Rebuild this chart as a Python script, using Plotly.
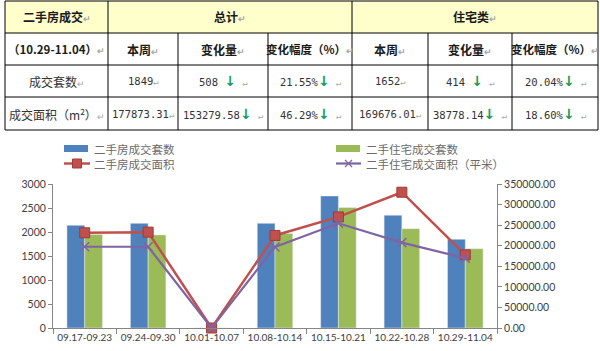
import plotly.graph_objects as go

# ---------------- data ----------------
weeks = ["09.17-09.23", "09.24-09.30", "10.01-10.07", "10.08-10.14",
         "10.15-10.21", "10.22-10.28", "10.29-11.04"]
all_units = [2140, 2180, 0, 2180, 2750, 2350, 1849]          # 二手房成交套数
res_units = [1950, 1940, 0, 1970, 2510, 2070, 1652]          # 二手住宅成交套数
all_area = [231500, 233000, 0, 225000, 270000, 330000, 177873.31]   # 二手房成交面积
res_area = [197500, 197500, 0, 197000, 254500, 207500, 169676.01]   # 二手住宅成交面积（平米）

series_names = ["二手房成交套数", "二手住宅成交套数", "二手房成交面积", "二手住宅成交面积（平米）"]

table_title = "二手房成交"
table_period = "（10.29-11.04）"
group_names = ["总计", "住宅类"]
sub_headers = ["本周", "变化量", "变化幅度（%）"]
row_names = ["成交套数", "成交面积（m<sup>2</sup>）"]
total_week = ["1849", "177873.31"]
total_change = ["508 ", "153279.58"]
total_pct = ["21.55%", "46.29%"]
res_week = ["1652", "169676.01"]
res_change = ["414 ", "38778.14"]
res_pct = ["20.04%", "18.60%"]

# ---------------- helpers ----------------
W, H = 600, 351
def px(x):
    return x / W
def py(y):
    return 1 - y / H

BLUE, GREEN, RED, PURPLE = "#4F81BD", "#9BBB59", "#C0504D", "#8064A2"
AX = "#868686"
TICKFONT = dict(family="Lato", size=10.5, color="#404040")
XTICKFONT = dict(family="Lato", size=10, color="#404040")

fig = go.Figure()
fig.add_trace(go.Bar(x=weeks, y=all_units, name=series_names[0], marker_color=BLUE,
                     yaxis="y", showlegend=False))
fig.add_trace(go.Bar(x=weeks, y=res_units, name=series_names[1], marker_color=GREEN,
                     yaxis="y", showlegend=False))
fig.add_trace(go.Scatter(x=weeks, y=all_area, name=series_names[2], yaxis="y2",
                         mode="lines+markers", cliponaxis=False,
                         line=dict(color=RED, width=2.5),
                         marker=dict(symbol="square", size=10, color=RED,
                                     line=dict(color="#A03A37", width=1)),
                         showlegend=False))
fig.add_trace(go.Scatter(x=weeks, y=res_area, name=series_names[3], yaxis="y2",
                         mode="lines+markers", cliponaxis=False,
                         line=dict(color=PURPLE, width=2.2),
                         marker=dict(symbol="x-thin", size=9, color=PURPLE,
                                     line=dict(color=PURPLE, width=1.5)),
                         showlegend=False))

shapes = []
annotations = []

# ---------------- table ----------------
L, R = 5, 598
rows_y = [1, 33, 65, 97, 130]
cols_x = [5, 108, 178, 268, 352, 428, 512, 598]
shapes.append(dict(type="rect", xref="paper", yref="paper", x0=px(L), x1=px(R),
                   y0=py(rows_y[0]), y1=py(rows_y[1]), fillcolor="#FFFFCC",
                   line=dict(width=0), layer="below"))
for yy in rows_y:
    shapes.append(dict(type="line", xref="paper", yref="paper", x0=px(L), x1=px(R),
                       y0=py(yy), y1=py(yy), line=dict(color="black", width=1)))
for xx in [5, 108, 352, 598]:
    shapes.append(dict(type="line", xref="paper", yref="paper", x0=px(xx), x1=px(xx),
                       y0=py(rows_y[0]), y1=py(rows_y[-1]), line=dict(color="black", width=1)))
for xx in [178, 268, 428, 512]:
    shapes.append(dict(type="line", xref="paper", yref="paper", x0=px(xx), x1=px(xx),
                       y0=py(rows_y[1]), y1=py(rows_y[-1]), line=dict(color="black", width=1)))

PM = "<span style='color:#A8A8A8;font-size:9px'>↵</span>"
ARR = "<span style='color:#1A9A5A;font-family:DejaVu Sans;font-size:14px'><b>↓</b></span>"
CJK = "Noto Sans CJK SC"
MONO = "DejaVu Sans Mono"

def cell(text, cx, cy, family=CJK, size=12, bold=False, color="#1A1A1A"):
    t = f"<b>{text}</b>" if bold else text
    annotations.append(dict(x=px(cx), y=py(cy), xref="paper", yref="paper", text=t,
                            showarrow=False, xanchor="center", yanchor="middle",
                            font=dict(family=family, size=size, color=color)))

centers_x = [(cols_x[i] + cols_x[i + 1]) / 2 for i in range(7)]
centers_y = [(rows_y[i] + rows_y[i + 1]) / 2 for i in range(4)]

cell(table_title + PM, centers_x[0], centers_y[0], bold=True)
cell(group_names[0] + PM, (108 + 352) / 2, centers_y[0], bold=True)
cell(group_names[1] + PM, (352 + 598) / 2, centers_y[0], bold=True)
cell(table_period + PM, centers_x[0], centers_y[1], bold=True, size=11.5)
for k, h in enumerate(sub_headers + sub_headers):
    cell(h + PM, centers_x[k + 1], centers_y[1], bold=True, size=12 if k % 3 != 2 else 11.5)

for r in range(2):
    cy = centers_y[r + 2]
    cell(row_names[r] + PM, centers_x[0], cy, size=12, color="#333333")
    vals = [total_week[r], total_change[r], total_pct[r], res_week[r], res_change[r], res_pct[r]]
    for k, v in enumerate(vals):
        if k % 3 == 0:
            txt = v + PM
        else:
            txt = v + ARR + " " + PM
        cell(txt, centers_x[k + 1], cy, family=MONO, size=10.5, color="#333333")

# ---------------- legend (manual) ----------------
LEGFONT = dict(family=CJK, size=11.5, color="#6B6B6B")
def leg_text(t, x, y):
    annotations.append(dict(x=px(x), y=py(y), xref="paper", yref="paper", text=t,
                            showarrow=False, xanchor="left", yanchor="middle", font=LEGFONT))

ROW1, ROW2 = 148.5, 163.5
# blue bar
shapes.append(dict(type="rect", xref="paper", yref="paper", x0=px(64), x1=px(88),
                   y0=py(ROW1 + 3.5), y1=py(ROW1 - 3.5), fillcolor=BLUE, line=dict(width=0)))
leg_text(series_names[0], 92, ROW1)
# green bar
shapes.append(dict(type="rect", xref="paper", yref="paper", x0=px(336), x1=px(360),
                   y0=py(ROW1 + 3.5), y1=py(ROW1 - 3.5), fillcolor=GREEN, line=dict(width=0)))
leg_text(series_names[1], 364, ROW1)
# red line + square
shapes.append(dict(type="line", xref="paper", yref="paper", x0=px(64), x1=px(90),
                   y0=py(ROW2), y1=py(ROW2), line=dict(color=RED, width=2.5)))
shapes.append(dict(type="rect", xref="paper", yref="paper", x0=px(72.5), x1=px(81.5),
                   y0=py(ROW2 + 4.5), y1=py(ROW2 - 4.5), fillcolor=RED,
                   line=dict(color="#A03A37", width=1)))
leg_text(series_names[2], 92, ROW2)
# purple line + x
shapes.append(dict(type="line", xref="paper", yref="paper", x0=px(336), x1=px(361),
                   y0=py(ROW2), y1=py(ROW2), line=dict(color=PURPLE, width=2.2)))
shapes.append(dict(type="line", xref="paper", yref="paper", x0=px(345), x1=px(352),
                   y0=py(ROW2 - 3.5), y1=py(ROW2 + 3.5), line=dict(color=PURPLE, width=1.2)))
shapes.append(dict(type="line", xref="paper", yref="paper", x0=px(345), x1=px(352),
                   y0=py(ROW2 + 3.5), y1=py(ROW2 - 3.5), line=dict(color=PURPLE, width=1.2)))
leg_text(series_names[3], 364, ROW2)

# ---------------- layout ----------------
fig.update_layout(
    width=W, height=H,
    margin=dict(l=0, r=0, t=0, b=0),
    paper_bgcolor="white", plot_bgcolor="white",
    barmode="group", bargap=0.44, bargroupgap=0,
    showlegend=False,
    shapes=shapes, annotations=annotations,
    xaxis=dict(domain=[px(53), px(497)], type="category", tickson="boundaries",
               ticks="outside", ticklen=5, tickcolor=AX, showline=True, linecolor=AX,
               showgrid=False, tickfont=XTICKFONT, tickangle=0, automargin=False),
    yaxis=dict(domain=[py(328), py(184)], range=[0, 3000], dtick=500,
               ticks="outside", ticklen=4, tickcolor=AX, showline=True, linecolor=AX,
               showgrid=False, zeroline=False, tickfont=TICKFONT, automargin=False),
    yaxis2=dict(overlaying="y", side="right", range=[0, 350000], dtick=50000,
                tickformat=".2f", ticks="outside", ticklen=4, tickcolor=AX,
                showline=True, linecolor=AX, showgrid=False, zeroline=False,
                tickfont=TICKFONT, automargin=False, anchor="x"),
)

fig.write_html("out.html")
